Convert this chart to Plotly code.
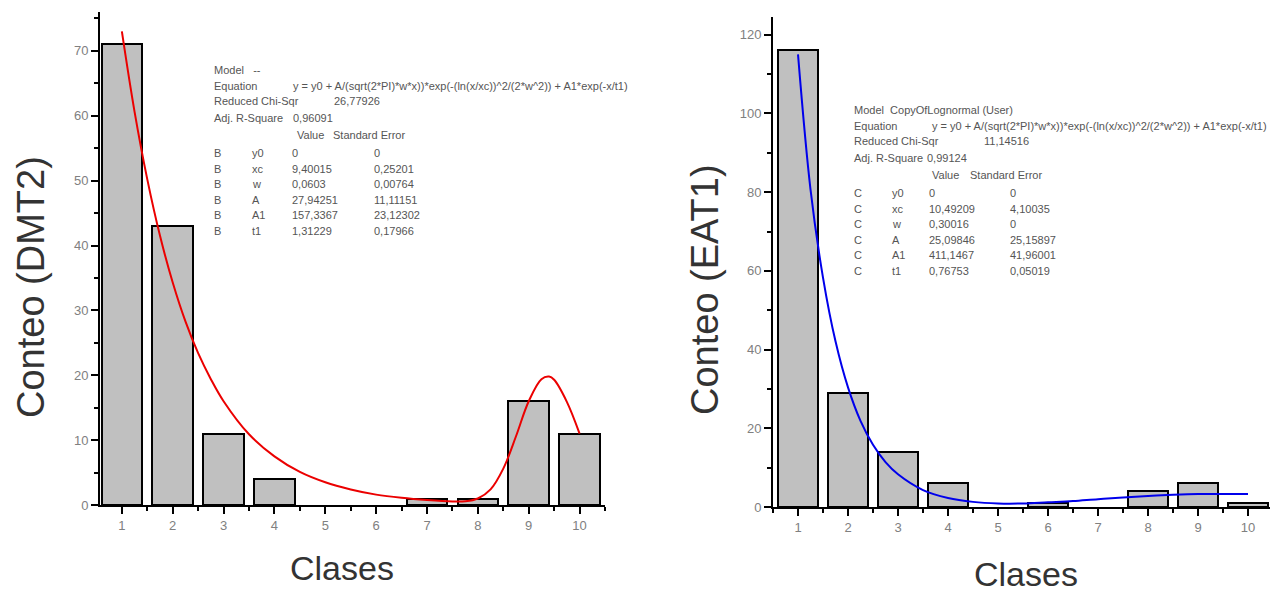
import plotly.graph_objects as go

PAGE_OFF = 8          # default body margin of the html page
W, H = 1278 - PAGE_OFF, 592 - PAGE_OFF

# ---------------- data ----------------
clases = [1, 2, 3, 4, 5, 6, 7, 8, 9, 10]
conteo_dmt2 = [71, 43, 11, 4, 0, 0, 1, 1, 16, 11]
conteo_eat1 = [116, 29, 14, 6, 0, 1, 0, 4, 6, 1]

# fitted curves
fit_dmt2_x = [1.0, 1.25, 1.5, 1.75, 2.0, 2.25, 2.5, 2.75, 3.0, 3.5, 4.0, 4.5, 5.0, 5.5, 6.0, 6.5,
              7.0, 7.5, 7.75, 8.0, 8.25, 8.5, 8.75, 9.0, 9.25, 9.4, 9.5, 9.75, 10.0]
fit_dmt2_y = [73.0, 60.6, 50.2, 41.5, 34.3, 28.3, 23.4, 19.4, 16.0, 10.9, 7.5, 5.1, 3.5, 2.4, 1.6, 1.1,
              0.76, 0.54, 0.57, 1.0, 2.4, 5.6, 10.6, 16.0, 19.4, 19.8, 19.3, 15.9, 11.0]

fit_eat1_x = [1.0, 1.25, 1.5, 1.75, 2.0, 2.25, 2.5, 2.75, 3.0, 3.5, 4.0, 4.5, 5.0, 5.5, 6.0, 6.5,
              7.0, 7.5, 8.0, 8.5, 9.0, 9.5, 10.0]
fit_eat1_y = [115.0, 80.7, 58.3, 42.1, 30.4, 21.9, 15.8, 11.4, 8.3, 4.3, 2.3, 1.3, 0.9, 0.9, 1.2, 1.5,
              2.0, 2.4, 2.8, 3.1, 3.3, 3.3, 3.3]

x_ticks = [1, 2, 3, 4, 5, 6, 7, 8, 9, 10]
y_ticks_dmt2 = [0, 10, 20, 30, 40, 50, 60, 70]
y_ticks_eat1 = [0, 20, 40, 60, 80, 100, 120]

# fit report text
left_rows = [
    ["B", "y0", "0", "0"],
    ["B", "xc", "9,40015", "0,25201"],
    ["B", "w", "0,0603", "0,00764"],
    ["B", "A", "27,94251", "11,11151"],
    ["B", "A1", "157,3367", "23,12302"],
    ["B", "t1", "1,31229", "0,17966"],
]
right_rows = [
    ["C", "y0", "0", "0"],
    ["C", "xc", "10,49209", "4,10035"],
    ["C", "w", "0,30016", "0"],
    ["C", "A", "25,09846", "25,15897"],
    ["C", "A1", "411,1467", "41,96001"],
    ["C", "t1", "0,76753", "0,05019"],
]
equation = "y = y0 + A/(sqrt(2*PI)*w*x))*exp(-(ln(x/xc))^2/(2*w^2)) + A1*exp(-x/t1)"

# ---------------- figure ----------------
def px(x):
    return (x - PAGE_OFF) / W

def py(y):
    return 1 - (y - PAGE_OFF) / H

def nonzero(xs, ys):
    pairs = [(a, b) for a, b in zip(xs, ys) if b > 0]
    return [p[0] for p in pairs], [p[1] for p in pairs]

fig = go.Figure()

bar_style = dict(marker=dict(color="#c0c0c0", line=dict(color="black", width=2)), width=0.8, showlegend=False)

bx, by = nonzero(clases, conteo_dmt2)
fig.add_trace(go.Bar(x=bx, y=by, xaxis="x", yaxis="y", **bar_style))
fig.add_trace(go.Scatter(x=fit_dmt2_x, y=fit_dmt2_y, mode="lines", xaxis="x", yaxis="y",
                         line=dict(color="rgb(235,0,0)", width=2, shape="spline"), showlegend=False))

bx2, by2 = nonzero(clases, conteo_eat1)
fig.add_trace(go.Bar(x=bx2, y=by2, xaxis="x2", yaxis="y2", **bar_style))
fig.add_trace(go.Scatter(x=fit_eat1_x, y=fit_eat1_y, mode="lines", xaxis="x2", yaxis="y2",
                         line=dict(color="rgb(0,0,235)", width=2, shape="spline"), showlegend=False))

tickfont = dict(family="Liberation Sans, Arial, sans-serif", size=13, color="#808080")

def xaxis_cfg(domain, anchor, rng):
    return dict(domain=domain, anchor=anchor, range=rng, tickvals=x_ticks, automargin=False,
                showgrid=False, zeroline=False, showline=True, linecolor="black", linewidth=2,
                ticks="outside", ticklen=7, tickwidth=2, tickcolor="black", tickfont=tickfont,
                minor=dict(dtick=0.5, tick0=0.5, ticks="outside", ticklen=4, tickwidth=2, tickcolor="black"))

def yaxis_cfg(domain, anchor, rng, tv, minor):
    return dict(domain=domain, anchor=anchor, range=rng, tickvals=tv, automargin=False,
                showgrid=False, zeroline=False, showline=True, linecolor="black", linewidth=2,
                ticks="outside", ticklen=7, tickwidth=2, tickcolor="black", tickfont=tickfont,
                minor=dict(dtick=minor, tick0=0, ticks="outside", ticklen=4, tickwidth=2, tickcolor="black"))

fig.update_layout(
    width=W, height=H,
    margin=dict(l=0, r=0, t=0, b=0),
    paper_bgcolor="white", plot_bgcolor="white",
    bargap=0,
    xaxis=xaxis_cfg([px(100), px(605)], "y", [0.57, 10.5]),
    yaxis=yaxis_cfg([py(505), py(12)], "x", [0, 76], y_ticks_dmt2, 5),
    xaxis2=xaxis_cfg([px(773), 1.0], "y2", [0.5, 10.6]),
    yaxis2=yaxis_cfg([py(507), py(17)], "x2", [0, 124.5], y_ticks_eat1, 10),
)

annots = []
ytitle_font = dict(family="Liberation Sans, Arial, sans-serif", size=38, color="#333333")
xtitle_font = dict(family="Liberation Sans, Arial, sans-serif", size=34, color="#333333")
annots.append(dict(text="Conteo (DMT2)", x=px(31), y=py(287), xref="paper", yref="paper",
                   textangle=-90, showarrow=False, font=ytitle_font, xanchor="center", yanchor="middle"))
annots.append(dict(text="Clases", x=px(342), y=py(568), xref="paper", yref="paper",
                   showarrow=False, font=xtitle_font, xanchor="center", yanchor="middle"))
annots.append(dict(text="Conteo (EAT1)", x=px(705), y=py(290), xref="paper", yref="paper",
                   textangle=-90, showarrow=False, font=ytitle_font, xanchor="center", yanchor="middle"))
annots.append(dict(text="Clases", x=px(1026), y=py(574), xref="paper", yref="paper",
                   showarrow=False, font=xtitle_font, xanchor="center", yanchor="middle"))

small = dict(family="Liberation Sans, Arial, sans-serif", size=11, color="#555555")

def txt(s, x, y):
    annots.append(dict(text=s, x=px(x), y=py(y), xref="paper", yref="paper", showarrow=False,
                       font=small, xanchor="left", yanchor="middle"))

# left report
txt("Model   --", 212, 70)
txt("Equation", 212, 86)
txt(equation, 291, 86)
txt("Reduced Chi-Sqr", 212, 101)
txt("26,77926", 332, 101)
txt("Adj. R-Square", 212, 118)
txt("0,96091", 291, 118)
txt("Value", 295, 135)
txt("Standard Error", 331, 135)
for i, r in enumerate(left_rows):
    yy = 153 + i * 15.6
    txt(r[0], 212, yy)
    txt(r[1], 250, yy)
    txt(r[2], 290, yy)
    txt(r[3], 372, yy)

# right report
txt("Model  CopyOfLognormal (User)", 852, 110)
txt("Equation", 852, 126)
txt(equation, 930, 126)
txt("Reduced Chi-Sqr", 852, 141)
txt("11,14516", 982, 141)
txt("Adj. R-Square", 852, 158)
txt("0,99124", 925, 158)
txt("Value", 930, 175)
txt("Standard Error", 968, 175)
for i, r in enumerate(right_rows):
    yy = 193 + i * 15.6
    txt(r[0], 852, yy)
    txt(r[1], 890, yy)
    txt(r[2], 927, yy)
    txt(r[3], 1008, yy)

fig.update_layout(annotations=annots)

fig.write_html("out.html")
